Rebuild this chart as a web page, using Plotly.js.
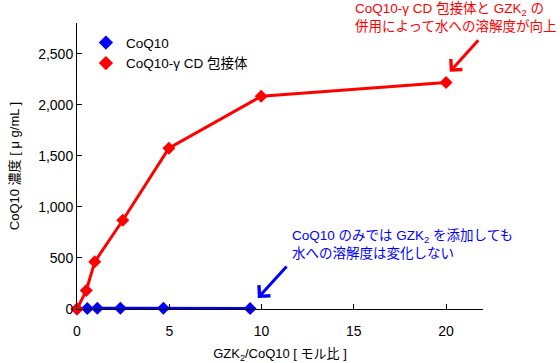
<!DOCTYPE html>
<html>
<head>
<meta charset="utf-8">
<script src="https://cdn.plot.ly/plotly-3.0.1.min.js"></script>
<style>html,body{margin:0;padding:0;background:#fff;}#chart{width:560px;height:363px;}</style>
</head>
<body>
<div id="chart"></div>
<script>
// Data
const coqX = [0, 0.56, 1.1, 2.35, 4.68, 9.38];
const coqY = [0, 6, 8, 8, 8, 4];
const incX = [0, 0.5, 0.96, 2.48, 4.98, 9.98, 20.0];
const incY = [0, 180, 462, 869, 1575, 2082, 2217];
const seriesNames = ["CoQ10", "CoQ10-γ CD 包接体"];
const xTicks = [0, 5, 10, 15, 20];
const yTicks = [0, 500, 1000, 1500, 2000, 2500];

const FONT = "Liberation Sans, Arial, Noto Sans CJK JP, sans-serif";
const BLUE = "#0000ff", RED = "#ff0000";

const traces = [
  {x: coqX, y: coqY, mode: "lines+markers", name: seriesNames[0], showlegend: false, cliponaxis: false,
   line: {color: BLUE, width: 3}, marker: {symbol: "diamond", size: 10, color: BLUE}},
  {x: incX, y: incY, mode: "lines+markers", name: seriesNames[1], showlegend: false, cliponaxis: false,
   line: {color: RED, width: 3}, marker: {symbol: "diamond", size: 10, color: RED}},
  {x: [null], y: [null], mode: "markers", name: seriesNames[0],
   marker: {symbol: "diamond", size: 11, color: BLUE}},
  {x: [null], y: [null], mode: "markers", name: seriesNames[1],
   marker: {symbol: "diamond", size: 11, color: RED}}
];

const layout = {
  width: 560, height: 363,
  margin: {l: 77, r: 77, t: 23, b: 54},
  paper_bgcolor: "#fff", plot_bgcolor: "#fff",
  font: {family: FONT, size: 13, color: "#000"},
  showlegend: true,
  legend: {x: 0.022, y: 0.985, xanchor: "left", yanchor: "top", bgcolor: "rgba(0,0,0,0)",
           font: {family: FONT, size: 13.5}, itemwidth: 30, tracegroupgap: 0},
  xaxis: {range: [0, 22], tickvals: xTicks, ticktext: xTicks.map(String),
          showgrid: false, zeroline: false, showline: true, linecolor: "#000", linewidth: 1,
          ticks: "inside", ticklen: 5, tickcolor: "#000", tickfont: {size: 14}, ticklabelstandoff: 9,
          title: {text: "GZK<sub>2</sub>/CoQ10 [ モル比 ]", font: {size: 13}, standoff: 13}},
  yaxis: {range: [0, 2800], tickvals: yTicks, ticktext: yTicks.map(v => v.toLocaleString("en-US")),
          showgrid: false, zeroline: false, showline: true, linecolor: "#000", linewidth: 1,
          ticks: "inside", ticklen: 5, tickcolor: "#000", tickfont: {size: 14},
          title: {text: "CoQ10 濃度 [ μ g/mL ]", font: {size: 13}, standoff: 15}},
  annotations: [
    {xref: "paper", yref: "paper", x: 1.185, y: 1.085, xanchor: "right", yanchor: "top", align: "left",
     showarrow: false, text: "CoQ10-γ CD 包接体と GZK<sub>2</sub> の<br>併用によって水への溶解度が向上",
     font: {family: FONT, size: 13.5, color: RED}},
    {xref: "x", yref: "y", x: 20.2, y: 2322, ax: 21.82, ay: 2646, axref: "x", ayref: "y",
     text: "", showarrow: true, arrowhead: 4, arrowsize: 1, arrowwidth: 3, arrowcolor: RED},
    {xref: "paper", yref: "paper", x: 0.524, y: 0.29, xanchor: "left", yanchor: "top", align: "left",
     showarrow: false, text: "CoQ10 のみでは GZK<sub>2</sub> を添加しても<br>水への溶解度は変化しない",
     font: {family: FONT, size: 13.5, color: BLUE}},
    {xref: "x", yref: "y", x: 9.8, y: 108, ax: 11.43, ay: 431, axref: "x", ayref: "y",
     text: "", showarrow: true, arrowhead: 4, arrowsize: 1, arrowwidth: 3, arrowcolor: BLUE}
  ]
};

Plotly.newPlot("chart", traces, layout, {displayModeBar: false, staticPlot: true});
</script>
</body>
</html>
